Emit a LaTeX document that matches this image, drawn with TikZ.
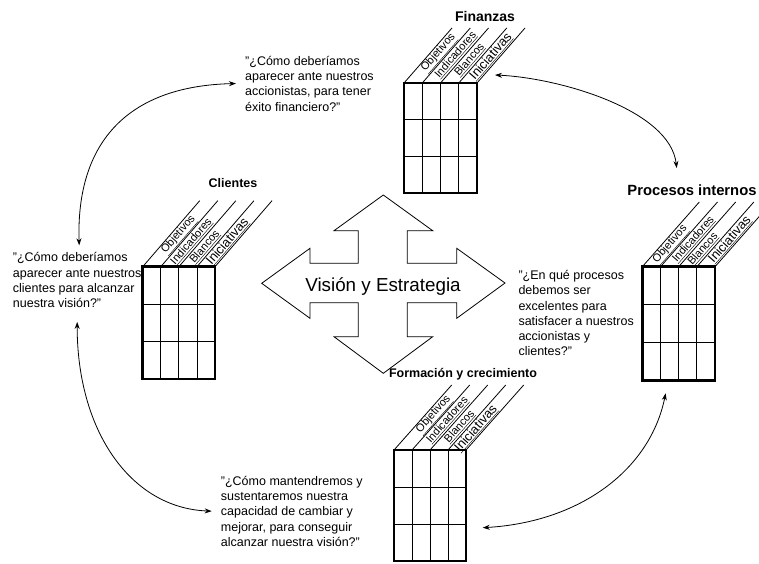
\documentclass[tikz,border=0pt]{standalone}
\usepackage{fontspec}
\setmainfont{Liberation Sans}
\usetikzlibrary{calc,arrows.meta}
\tikzset{
  tblbox/.style={draw, line width=2.5pt, anchor=north west, inner sep=0pt, outer sep=0pt},
  thinln/.style={line width=0.8pt},
  lbl/.style={inner sep=0pt, font=\fontsize{11}{12}\selectfont},
  lblbig/.style={inner sep=0pt, font=\fontsize{13}{14}\selectfont},
  qtext/.style={anchor=north west, align=left, inner sep=0pt, font=\fontsize{12.5}{15.3}\selectfont},
  hdr/.style={inner sep=0pt, font=\bfseries\fontsize{12.5}{14}\selectfont},
  dblarrow/.style={{Stealth[length=7pt,width=5pt]}-{Stealth[length=7pt,width=5pt]}, line width=0.8pt},
  crossln/.style={line width=0.8pt},
}
\newcommand\bsctab[7]{% name, x, y, w, h, dx, dy
  \node[tblbox, minimum width=#4pt, minimum height=#5pt] (#1) at (#2,#3) {};
  \foreach \i in {1,2,3}{
    \draw[thinln] ($(#1.north west)!\i/4!(#1.north east)$) -- ($(#1.south west)!\i/4!(#1.south east)$);}
  \foreach \j in {1,2}{
    \draw[thinln] ($(#1.north west)!\j/3!(#1.south west)$) -- ($(#1.north east)!\j/3!(#1.south east)$);}
  \foreach \i in {0,...,4}{
    \draw[thinln] ($(#1.north west)!\i/4!(#1.north east)$) -- ++(#6,-#7);}
  \foreach \i in {1,...,4}{
    \coordinate (#1-c\i) at ($(#1.north west)!{(\i-0.5)/4}!(#1.north east)$);
    \coordinate (#1-d\i) at ($(#1-c\i)+(#6,-#7)$);}
}
\begin{document}
\begin{tikzpicture}[x=1pt,y=-1pt]
\useasboundingbox (0,0) rectangle (759,563);

% ---- tables ----
\bsctab{fin}{404}{83}{73}{110}{48}{55}
\bsctab{cli}{142.7}{266.7}{72.3}{112.3}{57}{66}
\bsctab{pro}{642.3}{266.7}{72.7}{114}{57}{64.7}
\bsctab{for}{394}{450}{72}{111}{57.7}{65}

% ---- column labels ----
\node[lbl, rotate=48.9] (fin-l1) at ($(fin-c1)!0.54!(fin-d1)$) {\underline{Objetivos}};
\node[lbl, rotate=48.9] (fin-l2) at ($(fin-c2)!0.51!(fin-d2)$) {\underline{Indicadores}};
\node[lbl, rotate=48.9] (fin-l3) at ($(fin-c3)!0.42!(fin-d3)$) {\underline{Blancos}};
\node[lblbig, rotate=48.9] (fin-l4) at ($(fin-c4)!0.48!(fin-d4)$) {\underline{Iniciativas}};

\node[lbl, rotate=49.2] (cli-l1) at ($(cli-c1)!0.48!(cli-d1)$) {\underline{Objetivos}};
\node[lbl, rotate=49.2] (cli-l2) at ($(cli-c2)!0.38!(cli-d2)$) {\underline{Indicadores}};
\node[lbl, rotate=49.2] (cli-l3) at ($(cli-c3)!0.30!(cli-d3)$) {\underline{Blancos}};
\node[lblbig, rotate=49.2] (cli-l4) at ($(cli-c4)!0.38!(cli-d4)$) {\underline{Iniciativas}};

\node[lbl, rotate=48.6] (pro-l1) at ($(pro-c1)!0.34!(pro-d1)$) {\underline{Objetivos}};
\node[lbl, rotate=48.6] (pro-l2) at ($(pro-c2)!0.42!(pro-d2)$) {\underline{Indicadores}};
\node[lbl, rotate=48.6] (pro-l3) at ($(pro-c3)!0.27!(pro-d3)$) {\underline{Blancos}};
\node[lblbig, rotate=48.6] (pro-l4) at ($(pro-c4)!0.42!(pro-d4)$) {\underline{Iniciativas}};

\node[lbl, rotate=48.4] (for-l1) at ($(for-c1)!0.54!(for-d1)$) {\underline{Objetivos}};
\node[lbl, rotate=48.4] (for-l2) at ($(for-c2)!0.46!(for-d2)$) {\underline{Indicadores}};
\node[lbl, rotate=48.4] (for-l3) at ($(for-c3)!0.36!(for-d3)$) {\underline{Blancos}};
\node[lblbig, rotate=48.4] (for-l4) at ($(for-c4)!0.33!(for-d4)$) {\underline{Iniciativas}};

% ---- headings ----
\node[hdr, font=\bfseries\fontsize{14}{16}\selectfont] (finh) at (485,16) {Finanzas};
\node[hdr] (clih) at (233,183) {Clientes};
\node[hdr, font=\bfseries\fontsize{14.8}{16}\selectfont] (proh) at (692,190) {Procesos internos};
\node[hdr] (forh) at (463,374) {Formación y crecimiento};

% ---- questions ----
\node[qtext] (finq) at (245,55.7) {"¿Cómo deberíamos\\aparecer ante nuestros\\accionistas, para tener\\éxito financiero?"};
\node[qtext] (cliq) at (12.7,252.3) {"¿Cómo deberíamos\\aparecer ante nuestros\\clientes para alcanzar\\nuestra visión?"};
\node[qtext] (proq) at (518.3,270) {"¿En qué procesos\\debemos ser\\excelentes para\\satisfacer a nuestros\\accionistas y\\clientes?"};
\node[qtext] (forq) at (220.7,475.7) {"¿Cómo mantendremos y\\sustentaremos nuestra\\capacidad de cambiar y\\mejorar, para conseguir\\alcanzar nuestra visión?"};

% ---- central four-way arrow ----
\draw[crossln, line join=miter]
  (383.3,195) -- (432.7,230.7) -- (407.3,230.7) -- (407.3,263.3) -- (456.7,263.3)
  -- (456.7,248.3) -- (505,283) -- (456.7,318.3) -- (456.7,302.7) -- (407.3,302.7)
  -- (407.3,336.7) -- (432.7,336.7) -- (383.3,373.3) -- (334,336.7) -- (358.3,336.7)
  -- (358.3,302.7) -- (310,302.7) -- (310,318.3) -- (261.7,283.3) -- (310,248.3)
  -- (310,263.3) -- (358.3,263.3) -- (358.3,230.7) -- (334,230.7) -- cycle;
\node[inner sep=0pt, font=\fontsize{18.8}{20}\selectfont] (vis) at (383,287) {Visión y Estrategia};

% ---- curved double arrows ----
\draw[dblarrow] ([xshift=-9pt]finq.west) .. controls (130,86) and (76,140) .. ([xshift=2pt,yshift=7pt]cliq.north);
\draw[dblarrow] ([xshift=18pt,yshift=8pt]fin.north east) .. controls (560,78) and (670,110) .. ([xshift=-15.3pt,yshift=16.4pt]proh.north);
\draw[dblarrow] ([yshift=-14pt]cliq.south) .. controls (77,430) and (130,508) .. ([xshift=-9pt]forq.west);
\draw[dblarrow] ([xshift=16.7pt,yshift=-22.2pt]for.east) .. controls (580,522) and (650,470) .. ([xshift=-13pt,yshift=-12.6pt]pro.south);
\end{tikzpicture}
\end{document}
